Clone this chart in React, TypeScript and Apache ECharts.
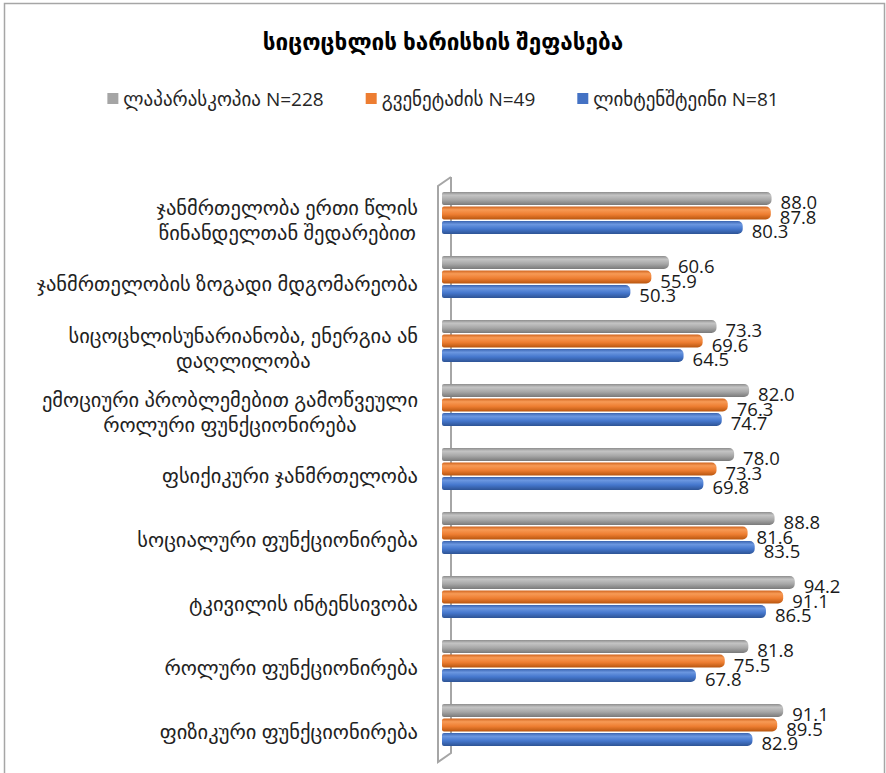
import React, { useEffect, useRef } from "react";
import * as echarts from "echarts";

const title = "სიცოცხლის ხარისხის შეფასება";

const categories = [
  "ჯანმრთელობა ერთი წლის\nწინანდელთან შედარებით",
  "ჯანმრთელობის ზოგადი მდგომარეობა",
  "სიცოცხლისუნარიანობა, ენერგია ან\nდაღლილობა",
  "ემოციური პრობლემებით გამოწვეული\nროლური ფუნქციონირება",
  "ფსიქიკური ჯანმრთელობა",
  "სოციალური ფუნქციონირება",
  "ტკივილის ინტენსივობა",
  "როლური ფუნქციონირება",
  "ფიზიკური ფუნქციონირება",
];

const seriesNames = ["ლაპარასკოპია N=228", "გვენეტაძის N=49", "ლიხტენშტეინი N=81"];

const laparoscopy = [88.0, 60.6, 73.3, 82.0, 78.0, 88.8, 94.2, 81.8, 91.1];
const gvenetadze = [87.8, 55.9, 69.6, 76.3, 73.3, 81.6, 91.1, 75.5, 89.5];
const lichtenstein = [80.3, 50.3, 64.5, 74.7, 69.8, 83.5, 86.5, 67.8, 82.9];

const baseColors = ["#a5a5a5", "#ed7d31", "#4472c4"];
const gradStops = [
  ["#8c8c8c", "#c4c4c4", "#a8a8a8", "#7a7a7a"],
  ["#d0651f", "#f79a55", "#ee7e32", "#b8560f"],
  ["#3a64b0", "#6b97e0", "#4577cd", "#2d5394"],
];

const FONT = "'Open Sans', 'DejaVu Sans', sans-serif";

export default function App() {
  const ref = useRef<HTMLDivElement>(null);
  useEffect(() => {
    if (!ref.current) return;
    const chart = echarts.init(ref.current, undefined, { renderer: "svg" });
    const datasets = [laparoscopy, gvenetadze, lichtenstein];
    const series = datasets.map((d, i) => ({
      name: seriesNames[i],
      type: "bar",
      data: d,
      barWidth: 13,
      barGap: "12%",
      z: 3,
      itemStyle: {
        borderRadius: [2, 5, 5, 2],
        color: new echarts.graphic.LinearGradient(0, 0, 0, 1, [
          { offset: 0, color: gradStops[i][0] },
          { offset: 0.25, color: gradStops[i][1] },
          { offset: 0.6, color: gradStops[i][2] },
          { offset: 1, color: gradStops[i][3] },
        ]),
      },
      label: {
        show: true,
        position: "right",
        distance: 9,
        offset: [0, 3],
        fontSize: 18.5,
        fontFamily: FONT,
        color: "#1a1a1a",
        formatter: (p: any) => Number(p.value).toFixed(1),
      },
    }));

    chart.setOption({
      animation: false,
      backgroundColor: "#ffffff",
      title: {
        text: title,
        left: "center",
        top: 25,
        textStyle: { fontSize: 22.5, fontWeight: "bold", color: "#000", fontFamily: FONT },
      },
      legend: {
        top: 84,
        left: "center",
        itemWidth: 11,
        itemHeight: 11,
        itemGap: 42,
        icon: "rect",
        textStyle: { fontSize: 19, color: "#262626", fontFamily: FONT },
        data: seriesNames.map((n, i) => ({ name: n, itemStyle: { color: baseColors[i] } })),
      },
      grid: { left: 442, top: 181, width: 374.5, height: 576 },
      xAxis: {
        type: "value",
        min: 0,
        max: 100,
        show: false,
        splitLine: { show: false },
      },
      yAxis: {
        type: "category",
        data: categories,
        inverse: true,
        axisLine: { show: false },
        axisTick: { show: false },
        axisLabel: {
          margin: 24,
          fontSize: 20.5,
          color: "#222222",
          fontFamily: FONT,
          padding: [12, 0, 0, 0],
          formatter: (v: string) => v.split("\n").map((l) => `{c|${l}}`).join("\n"),
          rich: {
            c: { align: "center", fontSize: 20.5, color: "#222222", fontFamily: FONT, lineHeight: 25 },
          },
        },
      },
      graphic: [
        {
          type: "rect",
          silent: true,
          z: 0,
          shape: { x: 4.5, y: 3.5, width: 880, height: 800 },
          style: { fill: "none", stroke: "#a6a6a6", lineWidth: 1.5 },
        },
        {
          type: "polyline",
          silent: true,
          z: 1,
          shape: {
            points: [
              [451, 177],
              [451, 753],
              [438, 762],
              [438, 186],
              [451, 177],
            ],
          },
          style: { fill: "none", stroke: "#a6a6a6", lineWidth: 2 },
        },
      ],
      series,
    });
    return () => chart.dispose();
  }, []);
  return (
    <div
      ref={ref}
      style={{ position: "fixed", left: 0, top: 0, width: 886, height: 773 }}
    />
  );
}
